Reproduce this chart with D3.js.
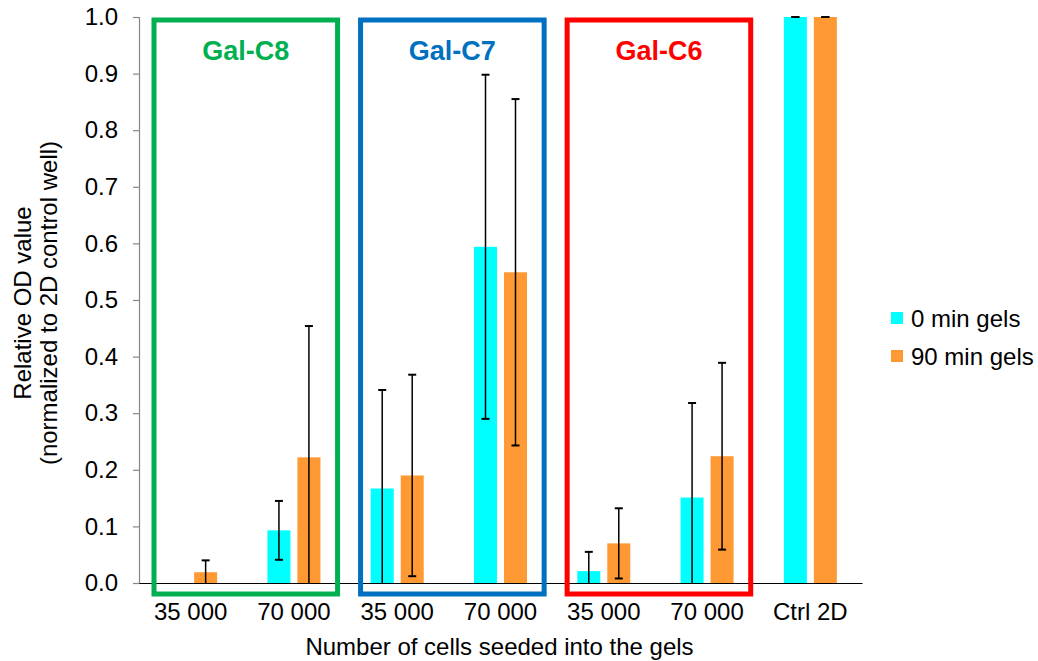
<!DOCTYPE html>
<html>
<head>
<meta charset="utf-8">
<script src="https://cdn.jsdelivr.net/npm/d3@7"></script>
<style>
  html, body { margin: 0; padding: 0; background: #fff; }
  svg { display: block; font-family: "Liberation Sans", Arial, sans-serif; }
</style>
</head>
<body>
<svg id="chart" width="1038" height="661"></svg>
<script>
// ---- data ----
const categories = ["35 000", "70 000", "35 000", "70 000", "35 000", "70 000", "Ctrl 2D"];
const seriesNames = ["0 min gels", "90 min gels"];
const values0 = [0, 0.093, 0.167, 0.594, 0.021, 0.151, 1.0];
const errors0 = [0, 0.052, 0.174, 0.304, 0.034, 0.167, 0];
const values90 = [0.019, 0.222, 0.190, 0.549, 0.070, 0.224, 1.0];
const errors90 = [0.021, 0.232, 0.178, 0.306, 0.062, 0.165, 0];
const yTicks = [0, 0.1, 0.2, 0.3, 0.4, 0.5, 0.6, 0.7, 0.8, 0.9, 1.0];
const boxLabels = ["Gal-C8", "Gal-C7", "Gal-C6"];
const boxStart = [0, 2, 4];
const boxEnd = [1, 3, 5];
const boxColors = ["#00B050", "#0070C0", "#FF0000"];
const seriesColors = ["#00FFFF", "#FF9933"];
const xTitle = "Number of cells seeded into the gels";
const yTitle1 = "Relative OD value";
const yTitle2 = "(normalized to 2D control well)";

// ---- layout ----
const svg = d3.select("#chart");
const pLeft = 139, pRight = 862, pTop = 17, pBottom = 583;
const FS = 24;

const x0 = d3.scaleBand().domain(d3.range(categories.length)).range([pLeft, pRight]).padding(0);
const bw = x0.bandwidth();
const x1 = d3.scaleBand().domain([0, 1]).range([bw / 2 - 26.5, bw / 2 + 26.5]).paddingInner(0.233);
const y = d3.scaleLinear().domain([0, 1]).range([pBottom, pTop]);

const series = [
  { vals: values0, errs: errors0, color: seriesColors[0] },
  { vals: values90, errs: errors90, color: seriesColors[1] }
];

// clip for plot area
svg.append("defs").append("clipPath").attr("id", "plotclip")
  .append("rect").attr("x", pLeft).attr("y", pTop - 4).attr("width", pRight - pLeft).attr("height", pBottom - pTop + 5);

// bars
series.forEach((s, si) => {
  svg.append("g").selectAll("rect").data(s.vals.map((v, i) => ({ v, i })).filter(d => d.v > 0))
    .join("rect")
    .attr("x", d => x0(d.i) + x1(si))
    .attr("width", x1.bandwidth())
    .attr("y", d => y(d.v))
    .attr("height", d => y(0) - y(d.v))
    .attr("fill", s.color);
});

// y axis
const yAxis = svg.append("g").attr("transform", `translate(${pLeft},0)`)
  .call(d3.axisLeft(y).tickValues(yTicks).tickFormat(d3.format(".1f")).tickSize(6).tickPadding(15));
yAxis.select(".domain").attr("stroke", "#868686").attr("stroke-width", 1.2);
yAxis.selectAll(".tick line").attr("stroke", "#868686").attr("stroke-width", 1.2);
yAxis.selectAll("text").attr("font-size", FS).attr("fill", "#000").attr("font-family", "Liberation Sans, Arial, sans-serif");

// x axis
const xAxis = svg.append("g").attr("transform", `translate(0,${pBottom})`)
  .call(d3.axisBottom(x0).tickFormat(i => categories[i]).tickSize(0).tickPadding(20));
xAxis.select(".domain").attr("stroke", "#000").attr("stroke-width", 1.2);
xAxis.selectAll("text").attr("font-size", FS).attr("fill", "#000").attr("font-family", "Liberation Sans, Arial, sans-serif");

// error bars
const eg = svg.append("g").attr("clip-path", "url(#plotclip)").attr("stroke", "#000").attr("stroke-width", 1.5);
series.forEach((s, si) => {
  s.vals.forEach((v, i) => {
    if (v <= 0) return;
    const cx = x0(i) + x1(si) + x1.bandwidth() / 2;
    const hi = v + s.errs[i], lo = v - s.errs[i];
    eg.append("line").attr("x1", cx).attr("x2", cx).attr("y1", y(hi)).attr("y2", y(lo));
    eg.append("line").attr("x1", cx - 4).attr("x2", cx + 4).attr("y1", y(hi)).attr("y2", y(hi)).attr("stroke-width", 2);
    eg.append("line").attr("x1", cx - 4).attr("x2", cx + 4).attr("y1", y(lo)).attr("y2", y(lo)).attr("stroke-width", 2);
  });
});

// group boxes
boxLabels.forEach((lab, k) => {
  const bx1 = x0(boxStart[k]) + 15;
  const bx2 = x0(boxEnd[k]) + bw - 8;
  const by1 = pTop + 3, by2 = pBottom + 11;
  svg.append("rect")
    .attr("x", bx1).attr("y", by1).attr("width", bx2 - bx1).attr("height", by2 - by1)
    .attr("fill", "none").attr("stroke", boxColors[k]).attr("stroke-width", 5);
  svg.append("text")
    .attr("x", (bx1 + bx2) / 2).attr("y", 60)
    .attr("text-anchor", "middle").attr("font-size", 27).attr("font-weight", "bold")
    .attr("fill", boxColors[k]).text(lab);
});

// axis titles
svg.append("text").attr("x", (pLeft + pRight) / 2 - 1).attr("y", 655)
  .attr("text-anchor", "middle").attr("font-size", FS).attr("fill", "#000").text(xTitle);
svg.append("text").attr("transform", `translate(31,${(pTop + pBottom) / 2 + 3}) rotate(-90)`)
  .attr("text-anchor", "middle").attr("font-size", FS).attr("fill", "#000").text(yTitle1);
svg.append("text").attr("transform", `translate(57,${(pTop + pBottom) / 2 + 3}) rotate(-90)`)
  .attr("text-anchor", "middle").attr("font-size", FS).attr("fill", "#000").text(yTitle2);

// legend
const lg = svg.append("g");
seriesNames.forEach((name, i) => {
  const ly = 312 + i * 38;
  lg.append("rect").attr("x", 891).attr("y", ly).attr("width", 12).attr("height", 12).attr("fill", seriesColors[i]);
  lg.append("text").attr("x", 911).attr("y", ly + 15).attr("font-size", FS).attr("fill", "#000").text(name);
});
</script>
</body>
</html>
